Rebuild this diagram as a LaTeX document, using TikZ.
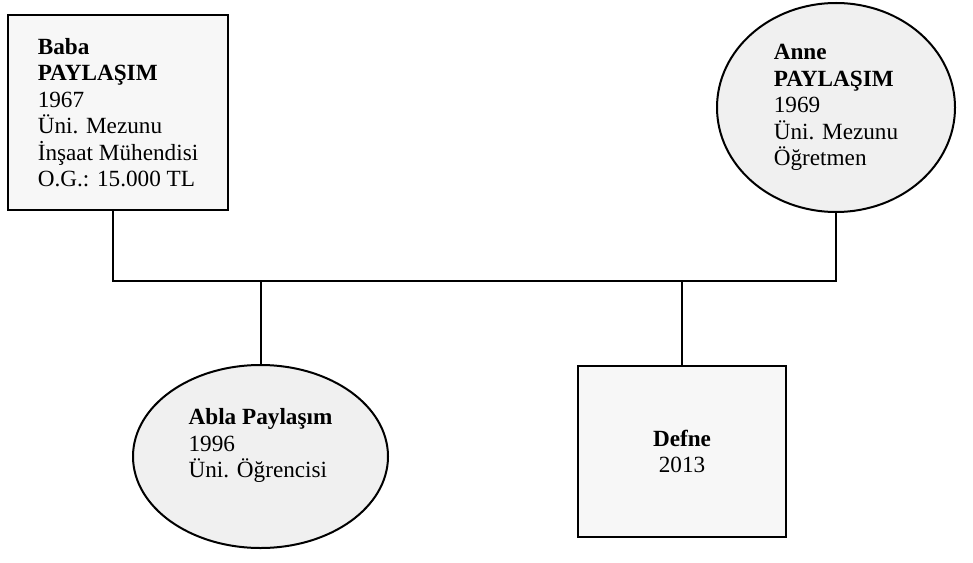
\documentclass[tikz,border=0pt]{standalone}
\usepackage{fontspec}
\setmainfont{Liberation Serif}
\usetikzlibrary{shapes.geometric}
\tikzset{
  kin/.style={draw=black, line width=1.5pt},
  malebox/.style={kin, rectangle, fill=gray!6, align=left, inner sep=0pt},
  femaleoval/.style={kin, ellipse, fill=gray!12, align=left, inner sep=0pt},
}
\begin{document}
\begin{tikzpicture}[x=0.75pt, y=-0.75pt, font=\fontsize{17.4}{19.9}\selectfont]
                    \useasboundingbox (0,0) rectangle (973,563);
                    \node[malebox, minimum width=165pt, minimum height=146.25pt] (baba) at (118,112.5)
                        {\textbf{Baba}\\ \textbf{PAYLAŞIM}\\ 1967\\ Üni. Mezunu\\ İnşaat Mühendisi\\ O.G.: 15.000 TL};
                    \node[femaleoval, minimum width=178.5pt, minimum height=156.75pt] (anne) at (836,107.5)
                        {\textbf{Anne}\\ \textbf{PAYLAŞIM}\\ 1969\\ Üni. Mezunu\\ Öğretmen};
                    \node[femaleoval, minimum width=191.25pt, minimum height=137.25pt] (abla) at (260.5,456.5)
                        {\textbf{Abla Paylaşım}\\ 1996\\ Üni. Öğrencisi\\ \mbox{}};
                    \node[malebox, align=center, minimum width=156pt, minimum height=128.25pt] (defne) at (682,451.5)
                        {\textbf{Defne}\\ 2013};
                    \coordinate (barL) at (113,281);
                    \coordinate (barR) at (anne.south |- barL);
                    \draw[kin] (baba.south -| barL) -- (barL) -- (barR) -- (anne.south);
                    \draw[kin] (abla.north |- barL) -- (abla.north);
                    \draw[kin] (defne.north |- barL) -- (defne.north);
                \end{tikzpicture}
\end{document}
